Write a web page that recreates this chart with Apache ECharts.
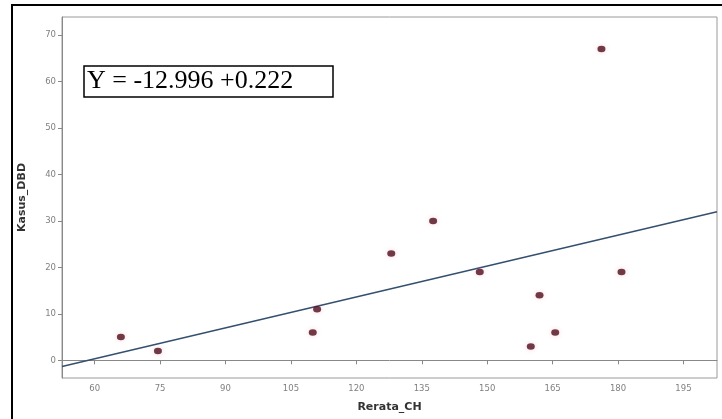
<!DOCTYPE html>
<html><head><meta charset="utf-8">
<script src="https://cdn.jsdelivr.net/npm/echarts@6/dist/echarts.min.js"></script>
<style>html,body{margin:0;padding:0;background:#fff}#c{width:722px;height:419px}</style>
</head><body><div id="c"></div>
<script>
// Data
const rerataCH = [66, 74.5, 110, 111, 128, 137.6, 148.3, 160, 162, 165.6, 176.2, 180.8];
const kasusDBD = [5, 2, 6, 11, 23, 30, 19, 3, 14, 6, 67, 19];
const xTicks = [60, 75, 90, 105, 120, 135, 150, 165, 180, 195];
const yTicks = [0, 10, 20, 30, 40, 50, 60, 70];
const xRange = [52.5, 202.7];
const yRange = [-3.8, 73.9];
const regIntercept = [-12.996];
const regSlope = [0.222];
const equationText = 'Y = -12.996 +0.222';

const points = rerataCH.map((x, i) => [x, kasusDBD[i]]);
const fitLine = xRange.map(x => [x, regIntercept[0] + regSlope[0] * x]);

const chart = echarts.init(document.getElementById('c'), null, {renderer: 'canvas'});
chart.setOption({
  animation: false,
  backgroundColor: '#fff',
  grid: {left: 62, top: 17, right: 5, bottom: 41, show: true, borderColor: '#9a9a9a', borderWidth: 1, backgroundColor: '#fff'},
  xAxis: {
    type: 'value', min: xRange[0], max: xRange[1],
    name: 'Rerata_CH', nameLocation: 'middle', nameGap: 24,
    nameTextStyle: {fontFamily: 'DejaVu Sans', fontWeight: 'bold', fontSize: 11, color: '#333'},
    axisLine: {show: true, lineStyle: {color: '#888', width: 1}},
    axisTick: {show: true, length: 4, customValues: xTicks, lineStyle: {color: '#888'}},
    axisLabel: {customValues: xTicks, fontSize: 8.5, color: '#808080', fontFamily: 'DejaVu Sans', margin: 6},
    splitLine: {show: false}
  },
  yAxis: {
    type: 'value', min: yRange[0], max: yRange[1],
    name: 'Kasus_DBD', nameLocation: 'middle', nameGap: 34, nameRotate: 90,
    nameTextStyle: {fontFamily: 'DejaVu Sans', fontWeight: 'bold', fontSize: 11, color: '#333'},
    axisLine: {show: true, lineStyle: {color: '#888', width: 1}},
    axisTick: {show: true, length: 4, customValues: yTicks, lineStyle: {color: '#888'}},
    axisLabel: {customValues: yTicks, fontSize: 8.5, color: '#808080', fontFamily: 'DejaVu Sans', margin: 6},
    splitLine: {show: false}
  },
  series: [
    {
      type: 'line', data: fitLine, showSymbol: false, symbol: 'none',
      lineStyle: {color: '#34506e', width: 1.5}, z: 2, silent: true
    },
    {
      type: 'scatter', data: points, symbol: 'circle', symbolSize: [8, 6.5],
      itemStyle: {color: '#4e0d1c', shadowColor: 'rgba(230,80,110,0.3)', shadowBlur: 5}, z: 3
    }
  ],
  graphic: [
    {type: 'rect', shape: {x: 12, y: 5, width: 720, height: 430}, style: {fill: 'none', stroke: '#000', lineWidth: 2}, z: 100, silent: true},
    {type: 'rect', shape: {x: 84, y: 66, width: 249, height: 31}, style: {fill: '#fff', stroke: '#000', lineWidth: 1.5}, z: 100},
    {type: 'text', x: 87, y: 81, style: {text: equationText, font: '26px "Liberation Serif"', fill: '#000', textVerticalAlign: 'middle'}, z: 101}
  ]
});
</script>
</body></html>
